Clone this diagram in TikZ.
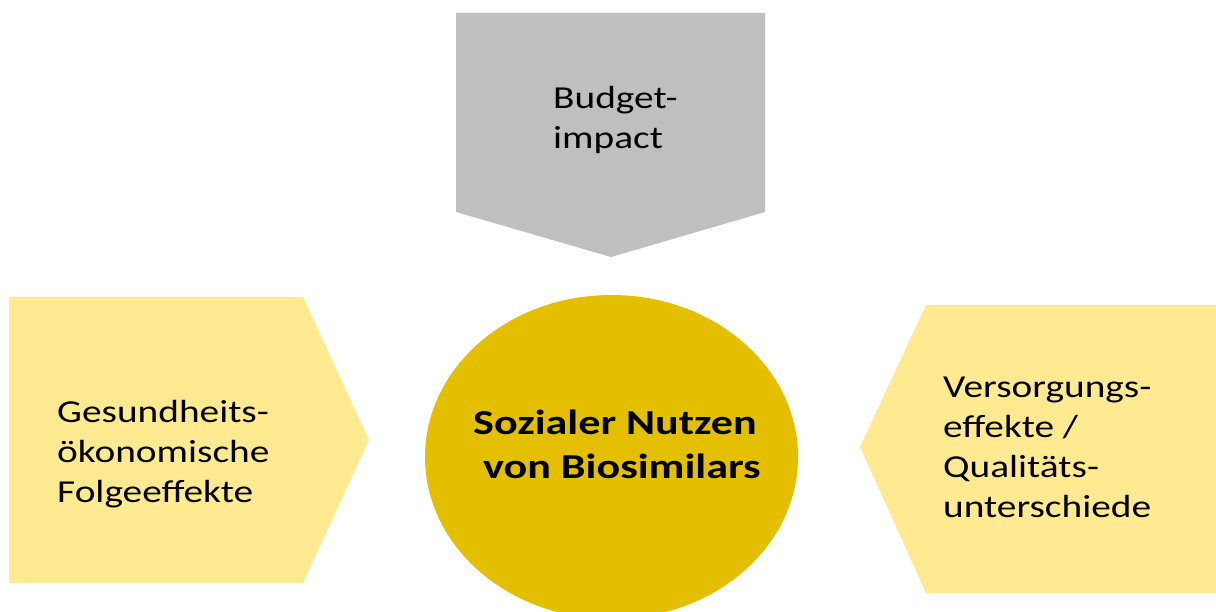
\documentclass[tikz,border=0pt]{standalone}
\usepackage{fontspec}
\setmainfont[FakeStretch=1.23, BoldFeatures={FakeStretch=1.26}]{Carlito}
\definecolor{greybox}{RGB}{191,191,191}
\definecolor{lightyellow}{RGB}{255,234,145}
\definecolor{gold}{RGB}{227,191,0}
\tikzset{
  label32/.style={inner sep=0pt, align=left, font=\fontsize{32}{40}\selectfont, text=black, anchor=north west},
  labelbold/.style={inner sep=0pt, align=left, font=\fontsize{35}{44}\selectfont\bfseries, text=black, anchor=north west}
}
\begin{document}
\begin{tikzpicture}[x=1pt,y=-1pt]
\clip (0,0) rectangle (1216,612);
\fill[white] (0,0) rectangle (1216,612);
% top pentagon
\fill[greybox] (456,13) -- (765,13) -- (765,212) -- (611,257) -- (456,212) -- cycle;
% left pentagon
\fill[lightyellow] (9,297) -- (303,297) -- (369,440) -- (303,583) -- (9,583) -- cycle;
% right pentagon
\fill[lightyellow] (926,305) -- (1220,305) -- (1220,593) -- (926,593) -- (860,447) -- cycle;
% ellipse
\fill[gold] (611.5,457) ellipse [x radius=186.5, y radius=162];
% texts
\node[label32] (budget) at (553,85.6) {Budget-\\impact};
\node[label32] (gesund) at (57,399.6) {Gesundheits-\\ökonomische\\Folgeeffekte};
\node[label32] (versorg) at (943,376.4) {Versorgungs-\\effekte /\\Qualitäts-\\unterschiede};
\node[labelbold] (center) at (473,409.5) {Sozialer Nutzen\\\ von Biosimilars};
\end{tikzpicture}
\end{document}
